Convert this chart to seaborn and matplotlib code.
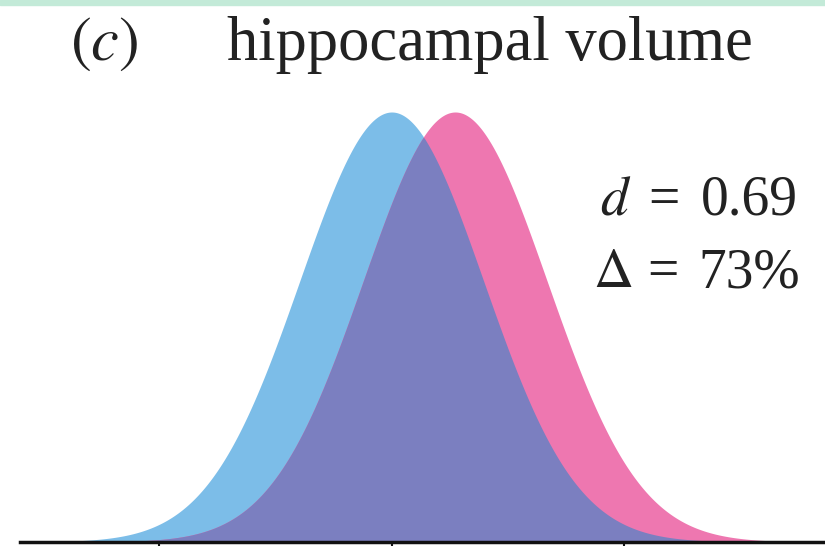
import numpy as np
import matplotlib
matplotlib.use('Agg')
import matplotlib.pyplot as plt
import seaborn as sns

# group parameters (standardised units, blue group centred on 0)
groups = ['control', 'patient']
means = [0.0, 0.69]
sds = [1.0, 1.0]
tick_pos = [-2.53, 0.0, 2.53]
title_tag = '$(c)$'
title_text = 'hippocampal volume'
d_parts = ['$d$', '=', '0.69']
delta_parts = [r'$\Delta$', '=', '73%']

col_blue = '#7cbde8'
col_pink = '#ee77b0'
col_mix = '#7b7fc0'
col_text = '#222222'

sns.set_theme(style='white')
plt.rcParams['font.family'] = ['Liberation Serif', 'DejaVu Serif']
plt.rcParams['mathtext.fontset'] = 'stix'

fig = plt.figure(figsize=(8.25, 5.46), dpi=100)
W, H = 825, 546
# axes: baseline at y=542 px, peak near y=112 px, 92 px per sd
ax = fig.add_axes([20 / W, (H - 542) / H, (W - 20) / W, (542 - 100) / H])

x = np.linspace(-4.04, 4.71, 800)
dens = [np.exp(-0.5 * ((x - m) / s) ** 2) / (s * np.sqrt(2 * np.pi)) for m, s in zip(means, sds)]

ax.fill_between(x, 0, dens[0], color=col_blue, lw=0)
ax.fill_between(x, 0, dens[1], color=col_pink, lw=0)
ax.fill_between(x, 0, np.minimum(dens[0], dens[1]), color=col_mix, lw=0)

peak = dens[0].max()
ax.set_xlim(x[0], x[-1])
ax.set_ylim(0, peak * 442 / 430)

sns.despine(ax=ax, left=True, top=True, right=True)
ax.spines['bottom'].set_color('#111111')
ax.spines['bottom'].set_linewidth(2.5)
ax.set_yticks([])
ax.set_xticks(tick_pos)
ax.set_xticklabels([])
ax.tick_params(axis='x', direction='out', length=5, width=1.5, color='#111111', bottom=True)

# title
fig.text(70 / W, 1 - 60 / H, title_tag, fontsize=45, color=col_text, ha='left', va='baseline')
fig.text(227 / W, 1 - 60 / H, title_text, fontsize=45, color=col_text, ha='left', va='baseline')

# effect size annotation, pieces placed to match the wide spacing
fs = 40
y1 = 1 - 215 / H
y2 = 1 - 287 / H
fig.text(600 / W, y1, d_parts[0], fontsize=fs, color=col_text, ha='left', va='baseline')
fig.text(664 / W, y1, d_parts[1], fontsize=fs, color=col_text, ha='center', va='baseline')
fig.text(798 / W, y1, d_parts[2], fontsize=fs, color=col_text, ha='right', va='baseline')
fig.text(593 / W, y2, delta_parts[0], fontsize=fs, color=col_text, ha='left', va='baseline')
fig.text(663 / W, y2, delta_parts[1], fontsize=fs, color=col_text, ha='center', va='baseline')
fig.text(800 / W, y2, delta_parts[2], fontsize=fs, color=col_text, ha='right', va='baseline')

# thin mint strip at the very top of the scan
fig.patches.append(plt.Rectangle((0, 1 - 5 / H), 1, 5 / H, transform=fig.transFigure,
                                 color='#c3ead8', zorder=0))

fig.savefig('out.png', dpi=100)
